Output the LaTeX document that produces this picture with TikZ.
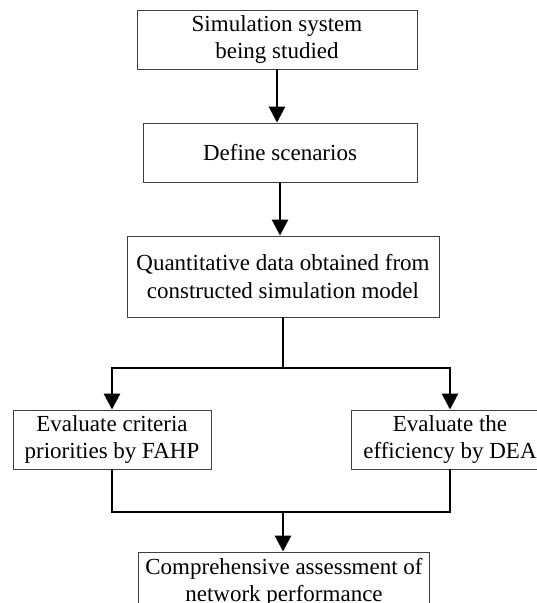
\documentclass[tikz,border=0pt]{standalone}
\usepackage{fontspec}
\setmainfont{Liberation Serif}
\usetikzlibrary{arrows.meta,positioning}
\tikzset{
  flowarrow/.style={-{Triangle[length=16pt,width=16pt]},line width=2.8pt,draw=black},
  joinline/.style={line width=2.8pt,draw=black},
  procbox/.style={rectangle,draw=black!75,line width=0.9pt,fill=white,align=center,
    inner sep=0pt,minimum height=59pt,font=\fontsize{23}{27.5}\selectfont},
}
\begin{document}
\begin{tikzpicture}[x=1pt,y=-1pt]
        \useasboundingbox (0,0) rectangle (537,603);
        \node[procbox,minimum width=280pt] (sim) at (277,39.5) {Simulation system\\being studied};
        \node[procbox,minimum width=274pt] (scen) at (280,152.5) {Define scenarios};
        \node[procbox,minimum width=312pt,minimum height=81pt] (quant) at (283,276.5) {Quantitative data obtained from\\constructed simulation model};
        \node[procbox,minimum width=198pt] (fahp) at (112,439.5) {Evaluate criteria\\priorities by FAHP};
        \node[procbox,minimum width=198pt] (dea) at (450,439.5) {Evaluate the\\efficiency by DEA};
        \node[procbox,minimum width=291pt,minimum height=61pt] (assess) at (284,582.5) {Comprehensive assessment of\\network performance};
        \coordinate (fork) at (283,368);
        \coordinate (join) at (283,512);
        \draw[flowarrow] (sim) -- (sim |- scen.north);
        \draw[flowarrow] (scen) -- (scen |- quant.north);
        \draw[joinline] (quant) -- (fork);
        \draw[flowarrow] (fork) -| (fahp);
        \draw[flowarrow] (fork) -| (dea);
        \draw[joinline] (fahp) |- (join) -| (dea);
        \draw[flowarrow] (join) -- (join |- assess.north);
      \end{tikzpicture}
\end{document}
